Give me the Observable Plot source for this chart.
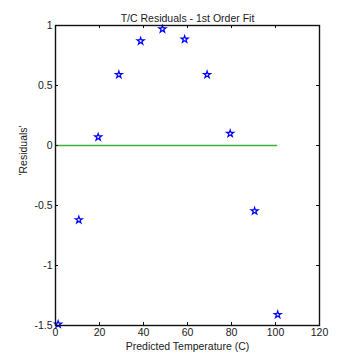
<!DOCTYPE html>
<html>
<head>
<meta charset="utf-8">
<script src="https://cdn.jsdelivr.net/npm/d3@7"></script>
<script src="https://cdn.jsdelivr.net/npm/@observablehq/plot@0.6"></script>
<style>
  html, body { margin: 0; padding: 0; background: #fff; }
  svg { display: block; }
</style>
</head>
<body>
<div id="chart"></div>
<script>
const predictedTemp = [1.2, 10.6, 19.4, 28.8, 38.7, 48.6, 58.7, 68.9, 79.4, 90.5, 101.0];
const residuals = [-1.49, -0.62, 0.07, 0.59, 0.87, 0.97, 0.885, 0.59, 0.10, -0.546, -1.41];
const zeroLineX = [0, 101];
const xTicks = [0, 20, 40, 60, 80, 100, 120];
const yTicks = [-1.5, -1, -0.5, 0, 0.5, 1];
const titleText = "T/C Residuals - 1st Order Fit";
const xLabelText = "Predicted Temperature (C)";
const yLabelText = "'Residuals'";

const W = 337, H = 354;
const mL = 55, mR = 18, mT = 25, mB = 29;
const innerH = H - mT - mB, innerW = W - mL - mR;
const tk = 3;
const font = "Liberation Sans, Arial, Helvetica, sans-serif";

const points = predictedTemp.map((x, i) => ({x, y: residuals[i]}));
const zeroLine = zeroLineX.map(x => ({x, y: 0}));

const chart = Plot.plot({
  width: W,
  height: H,
  marginLeft: mL,
  marginRight: mR,
  marginTop: mT,
  marginBottom: mB,
  style: {fontFamily: font, fontSize: "10px", color: "#1a1a1a", background: "#fff"},
  x: {domain: [0, 120], axis: null},
  y: {domain: [-1.5, 1], axis: null},
  marks: [
    Plot.ruleY([0], {x1: zeroLineX[0], x2: zeroLineX[1], stroke: "#3cae3c", strokeWidth: 1.3}),
    Plot.dot(points, {x: "x", y: "y", symbol: "star", r: 2.2, stroke: "#0000ff", fill: "none", strokeWidth: 1.2}),
    // inward ticks on all four sides
    Plot.tickX(xTicks, {x: d => d, insetTop: innerH - tk, stroke: "#111", strokeWidth: 1}),
    Plot.tickX(xTicks, {x: d => d, insetBottom: innerH - tk, stroke: "#111", strokeWidth: 1}),
    Plot.tickY(yTicks, {y: d => d, insetRight: innerW - tk, stroke: "#111", strokeWidth: 1}),
    Plot.tickY(yTicks, {y: d => d, insetLeft: innerW - tk, stroke: "#111", strokeWidth: 1}),
    Plot.frame({stroke: "#111", strokeWidth: 1.4}),
    // tick labels
    Plot.text(xTicks, {x: d => d, text: d => String(d), frameAnchor: "bottom", dy: 10, fill: "#1a1a1a", fontSize: 10.5}),
    Plot.text(yTicks, {y: d => d, text: d => String(d), frameAnchor: "left", textAnchor: "end", dx: -3, fill: "#1a1a1a", fontSize: 10.5}),
    // title and axis labels
    Plot.text([titleText], {text: d => d, frameAnchor: "top", dy: -11, fill: "#1a1a1a", fontSize: 10.5}),
    Plot.text([xLabelText], {text: d => d, frameAnchor: "bottom", dy: 24, fill: "#1a1a1a", fontSize: 10.5}),
    Plot.text([yLabelText], {text: d => d, frameAnchor: "left", dx: -32, rotate: -90, fill: "#1a1a1a", fontSize: 10.5})
  ]
});
document.getElementById("chart").appendChild(chart);
</script>
</body>
</html>
